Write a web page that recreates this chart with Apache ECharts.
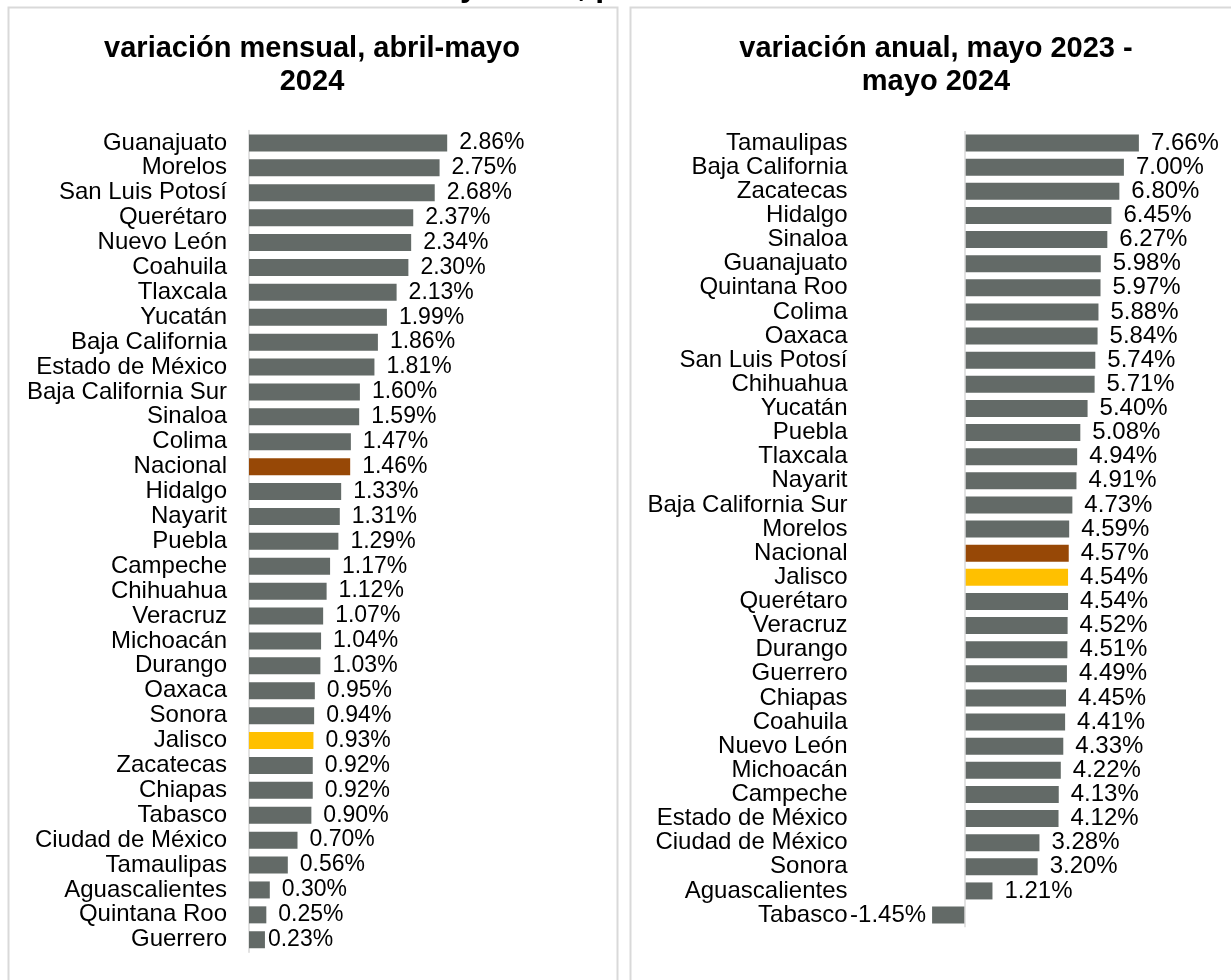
<!DOCTYPE html>
<html>
<head>
<meta charset="utf-8">
<script src="https://cdn.jsdelivr.net/npm/echarts@6/dist/echarts.min.js"></script>
<style>
html,body{margin:0;padding:0;background:#fff;}
#chart{width:1231px;height:980px;}
</style>
</head>
<body>
<div id="chart"></div>
<script>
// ---- data ----
const mensualCategories = ['Guanajuato','Morelos','San Luis Potosí','Querétaro','Nuevo León','Coahuila','Tlaxcala','Yucatán','Baja California','Estado de México','Baja California Sur','Sinaloa','Colima','Nacional','Hidalgo','Nayarit','Puebla','Campeche','Chihuahua','Veracruz','Michoacán','Durango','Oaxaca','Sonora','Jalisco','Zacatecas','Chiapas','Tabasco','Ciudad de México','Tamaulipas','Aguascalientes','Quintana Roo','Guerrero'];
const mensualValues = [2.86,2.75,2.68,2.37,2.34,2.30,2.13,1.99,1.86,1.81,1.60,1.59,1.47,1.46,1.33,1.31,1.29,1.17,1.12,1.07,1.04,1.03,0.95,0.94,0.93,0.92,0.92,0.90,0.70,0.56,0.30,0.25,0.23];

const anualCategories = ['Tamaulipas','Baja California','Zacatecas','Hidalgo','Sinaloa','Guanajuato','Quintana Roo','Colima','Oaxaca','San Luis Potosí','Chihuahua','Yucatán','Puebla','Tlaxcala','Nayarit','Baja California Sur','Morelos','Nacional','Jalisco','Querétaro','Veracruz','Durango','Guerrero','Chiapas','Coahuila','Nuevo León','Michoacán','Campeche','Estado de México','Ciudad de México','Sonora','Aguascalientes','Tabasco'];
const anualValues = [7.66,7.00,6.80,6.45,6.27,5.98,5.97,5.88,5.84,5.74,5.71,5.40,5.08,4.94,4.91,4.73,4.59,4.57,4.54,4.54,4.52,4.51,4.49,4.45,4.41,4.33,4.22,4.13,4.12,3.28,3.20,1.21,-1.45];

const titleLeft = 'variación mensual, abril-mayo\n2024';
const titleRight = 'variación anual, mayo 2023 -\nmayo 2024';
const topTitle = 'Inflación en mayo 2024, por entidad federativa';

// ---- styling ----
const FONT = "'Liberation Sans', Arial, sans-serif";
const BAR = '#636a67';
const HIGHLIGHT = { 'Nacional': '#974806', 'Jalisco': '#FFC000' };
const BORDER = '#d9d9d9';

function buildData(cats, vals, tweaks) {
  return vals.map((v, i) => {
    const item = { value: v, itemStyle: { color: HIGHLIGHT[cats[i]] || BAR } };
    if (v < 0) item.label = { position: 'left', distance: 6 };
    if (tweaks && tweaks[cats[i]]) item.label = Object.assign({}, item.label, tweaks[cats[i]]);
    return item;
  });
}

const chart = echarts.init(document.getElementById('chart'), null, { renderer: 'canvas' });

function labelStyle(size) {
  return {
    show: true, position: 'right', distance: 12,
    fontFamily: FONT, fontSize: size, color: '#000',
    formatter: p => p.value.toFixed(2) + '%'
  };
}

const option = {
  animation: false,
  backgroundColor: '#fff',
  textStyle: { fontFamily: FONT },
  graphic: [
    { type: 'rect', shape: { x: 8.5, y: 7.5, width: 609, height: 1000 }, style: { fill: 'none', stroke: BORDER, lineWidth: 2 }, silent: true },
    { type: 'rect', shape: { x: 630.5, y: 7.5, width: 609, height: 1000 }, style: { fill: 'none', stroke: BORDER, lineWidth: 2 }, silent: true },
    { type: 'text', left: 227, top: -29, style: { text: topTitle, font: "bold 32px 'Liberation Sans', Arial", fill: '#000' }, silent: true },
    { type: 'text', x: 312, y: 32, style: { text: titleLeft, font: "bold 29px 'Liberation Sans', Arial", fill: '#000', align: 'center', lineHeight: 33 }, silent: true },
    { type: 'text', x: 936, y: 32, style: { text: titleRight, font: "bold 29px 'Liberation Sans', Arial", fill: '#000', align: 'center', lineHeight: 33 }, silent: true }
  ],
  grid: [
    { left: 249, top: 130.5, width: 4 * 69.3, height: 24.9 * 33, containLabel: false, outerBoundsMode: 'none' },
    { left: 965 - 5 * 22.7, top: 131, width: 15 * 22.7, height: 24.125 * 33, containLabel: false, outerBoundsMode: 'none' }
  ],
  xAxis: [
    { gridIndex: 0, type: 'value', min: 0, max: 4, show: false },
    { gridIndex: 1, type: 'value', min: -5, max: 10, interval: 5, show: false }
  ],
  yAxis: [
    { gridIndex: 0, type: 'category', data: mensualCategories, inverse: true,
      axisLine: { show: true, lineStyle: { color: BORDER, width: 1.5 } },
      axisTick: { show: false }, splitLine: { show: false },
      axisLabel: { interval: 0, fontFamily: FONT, fontSize: 24, color: '#000', margin: 22 } },
    { gridIndex: 1, type: 'category', data: anualCategories, inverse: true,
      axisLine: { show: false }, axisTick: { show: false }, splitLine: { show: false },
      axisLabel: { interval: 0, fontFamily: FONT, fontSize: 24, color: '#000', margin: 4 } }
  ],
  series: [
    { type: 'bar', xAxisIndex: 0, yAxisIndex: 0, barWidth: 17,
      data: buildData(mensualCategories, mensualValues, { 'Guerrero': { distance: 3 } }),
      label: labelStyle(23) },
    { type: 'bar', xAxisIndex: 1, yAxisIndex: 1, barWidth: 17,
      data: buildData(anualCategories, anualValues),
      label: labelStyle(24),
      markLine: { silent: true, symbol: 'none', label: { show: false },
        lineStyle: { color: BORDER, width: 1.5, type: 'solid' },
        data: [{ xAxis: 0 }] } }
  ]
};
chart.setOption(option);
</script>
</body>
</html>
